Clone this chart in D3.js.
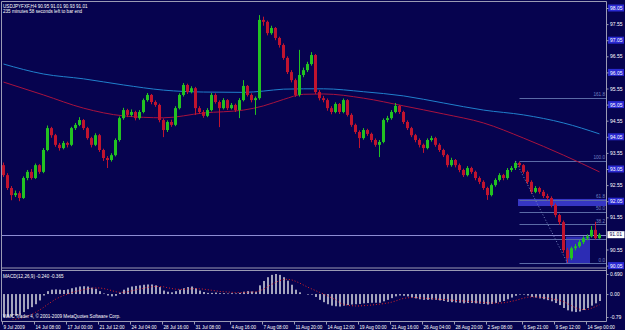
<!DOCTYPE html>
<html>
<head>
<meta charset="utf-8">
<script src="https://cdnjs.cloudflare.com/ajax/libs/d3/7.8.5/d3.min.js"></script>
<style>
  body { margin: 0; background: #06034f; }
  svg { display: block; font-family: 'Liberation Sans', Arial, sans-serif; }
</style>
</head>
<body>
<div id="wrapper"></div>
<script>
// USDJPY H4 candles (one bar per 4px here)
const firstOpen = 93.17
const closes = [
  92.86, 92.46, 92.24, 92.30, 92.15, 92.77, 92.96, 92.77, 93.17, 92.96,
  93.64, 94.32, 94.10, 93.80, 93.70, 93.86, 93.80, 94.32, 94.42, 94.57,
  94.32, 94.01, 93.80, 94.10, 93.64, 93.39, 93.33, 93.48, 93.95, 94.63,
  94.88, 94.73, 94.82, 94.63, 94.82, 95.19, 95.35, 95.13, 95.04, 94.57,
  94.26, 94.51, 94.42, 94.94, 95.35, 95.66, 95.44, 95.56, 94.94, 94.82,
  94.70, 94.88, 95.35, 95.13, 94.94, 95.19, 94.94, 95.04, 94.88, 95.19,
  95.63, 95.35, 95.19, 95.25, 97.68, 97.62, 97.27, 97.43, 97.12, 96.90,
  96.50, 96.06, 95.81, 95.35, 95.97, 96.12, 96.31, 96.59, 95.44, 95.25,
  95.19, 94.94, 94.82, 95.07, 94.82, 95.19, 94.73, 94.42, 94.20, 94.01,
  94.26, 94.14, 93.95, 93.80, 93.89, 94.57, 94.63, 94.82, 95.01, 94.82,
  94.51, 94.32, 94.10, 93.95, 93.80, 93.70, 93.95, 94.01, 93.80, 93.64,
  93.48, 93.17, 93.33, 93.17, 93.02, 92.86, 93.08, 92.96, 92.77, 92.65,
  92.46, 92.24, 92.55, 92.71, 92.86, 92.77, 93.02, 93.08, 93.24, 93.17,
  92.96, 92.65, 92.34, 92.46, 92.34, 92.21, 92.15, 91.93, 91.62, 91.40,
  90.53, 90.28, 90.59, 90.65, 90.78, 90.90, 90.96, 91.16, 90.90, 91.01
]
const highs = [
  93.25, 92.92, 92.52, 92.38, 92.36, 92.82, 93.02, 93.05, 93.22, 93.20,
  93.70, 94.40, 94.36, 94.14, 93.86, 93.92, 93.90, 94.36, 94.48, 94.66,
  94.60, 94.36, 94.05, 94.16, 94.14, 93.68, 93.45, 93.54, 94.00, 94.68,
  94.95, 94.92, 94.90, 94.86, 94.88, 95.24, 95.41, 95.38, 95.18, 95.08,
  94.62, 94.56, 94.58, 95.00, 95.40, 95.72, 95.70, 95.62, 95.60, 95.00,
  94.88, 94.94, 95.41, 95.40, 95.18, 95.25, 95.22, 95.10, 95.08, 95.25,
  95.81, 95.66, 95.40, 95.30, 97.83, 97.78, 97.66, 97.50, 97.46, 97.16,
  96.95, 96.55, 96.12, 95.86, 96.75, 96.20, 96.38, 96.68, 96.62, 95.50,
  95.32, 95.24, 95.00, 95.12, 95.10, 95.24, 95.22, 94.78, 94.46, 94.25,
  94.32, 94.30, 94.18, 94.00, 93.95, 94.62, 94.70, 94.88, 95.10, 95.04,
  94.86, 94.56, 94.36, 94.14, 94.00, 93.84, 94.00, 94.08, 94.05, 93.85,
  93.68, 93.52, 93.40, 93.36, 93.22, 93.06, 93.14, 93.12, 93.00, 92.82,
  92.70, 92.50, 92.60, 92.76, 92.92, 92.90, 93.08, 93.14, 93.30, 93.28,
  93.20, 93.00, 92.70, 92.52, 92.50, 92.40, 92.28, 92.20, 91.98, 91.66,
  91.45, 90.60, 90.64, 90.72, 90.84, 90.96, 91.02, 91.28, 91.41, 91.06
]
const lows = [
  92.80, 92.40, 92.08, 92.18, 92.05, 92.12, 92.70, 92.72, 92.74, 92.90,
  92.92, 93.60, 94.02, 93.74, 93.62, 93.66, 93.72, 93.76, 94.26, 94.38,
  94.26, 93.96, 93.72, 93.76, 93.58, 93.30, 93.08, 93.28, 93.44, 93.90,
  94.58, 94.66, 94.68, 94.56, 94.58, 94.78, 95.14, 95.06, 94.98, 94.50,
  94.04, 94.20, 94.36, 94.38, 94.90, 95.30, 95.38, 95.40, 94.73, 94.76,
  94.64, 94.66, 94.84, 95.08, 94.35, 94.90, 94.88, 94.90, 94.82, 94.63,
  95.15, 95.30, 95.12, 94.73, 95.20, 97.50, 97.20, 97.22, 97.05, 96.82,
  96.44, 96.00, 95.74, 95.29, 95.30, 95.90, 96.06, 96.26, 95.38, 95.18,
  95.12, 94.86, 94.75, 94.78, 94.76, 94.78, 94.68, 94.36, 94.14, 93.70,
  93.96, 94.08, 93.88, 93.74, 93.42, 93.85, 94.50, 94.58, 94.78, 94.76,
  94.45, 94.26, 94.04, 93.88, 93.72, 93.55, 93.66, 93.90, 93.74, 93.58,
  93.42, 93.10, 93.12, 93.10, 92.95, 92.80, 92.82, 92.90, 92.70, 92.58,
  92.40, 92.09, 92.20, 92.50, 92.66, 92.70, 92.72, 92.96, 93.02, 93.10,
  92.90, 92.58, 92.28, 92.30, 92.28, 92.15, 92.08, 91.86, 91.55, 91.32,
  90.45, 90.13, 90.22, 90.52, 90.60, 90.72, 90.84, 90.92, 90.86, 90.88
]

// moving averages, sampled at these bar indices
const maIdx = [0, 10, 20, 30, 40, 50, 60, 65, 70, 75, 80, 90, 100, 110, 120, 130, 140, 149]
const maBlue = [96.31, 96.00, 95.85, 95.66, 95.50, 95.44, 95.43, 95.47, 95.53, 95.54, 95.54, 95.45, 95.32, 95.10, 94.88, 94.73, 94.48, 94.14]
const maRed = [95.75, 95.35, 94.94, 94.70, 94.64, 94.79, 94.88, 95.01, 95.21, 95.37, 95.38, 95.25, 95.01, 94.76, 94.48, 94.01, 93.48, 92.96]

// MACD(12,26,9) histogram and signal
const macdMain = [
  -0.80, -0.80, -0.78, -0.75, -0.72, -0.62, -0.52, -0.45, -0.35, -0.22,
  -0.05, 0.10, 0.15, 0.16, 0.15, 0.14, 0.16, 0.20, 0.23, 0.26,
  0.27, 0.26, 0.22, 0.18, 0.10, 0.02, -0.05, -0.08, -0.06, 0.05,
  0.15, 0.22, 0.26, 0.28, 0.30, 0.32, 0.33, 0.33, 0.30, 0.24,
  0.12, 0.08, 0.06, 0.10, 0.15, 0.20, 0.24, 0.26, 0.20, 0.12,
  0.07, 0.04, 0.04, 0.05, 0.03, 0.03, 0.02, 0.03, 0.02, 0.04,
  0.08, 0.10, 0.09, 0.08, 0.30, 0.45, 0.58, 0.66, 0.69, 0.66,
  0.58, 0.46, 0.32, 0.15, 0.06, 0.00, -0.02, -0.02, -0.10, -0.20,
  -0.28, -0.35, -0.40, -0.42, -0.43, -0.40, -0.38, -0.36, -0.35, -0.34,
  -0.32, -0.31, -0.30, -0.30, -0.30, -0.25, -0.20, -0.14, -0.08, -0.05,
  -0.06, -0.08, -0.12, -0.15, -0.18, -0.20, -0.20, -0.19, -0.20, -0.22,
  -0.24, -0.27, -0.28, -0.29, -0.30, -0.32, -0.31, -0.31, -0.32, -0.33,
  -0.34, -0.36, -0.34, -0.31, -0.27, -0.24, -0.18, -0.12, -0.06, -0.02,
  -0.02, -0.05, -0.10, -0.12, -0.15, -0.18, -0.21, -0.25, -0.31, -0.38,
  -0.48, -0.56, -0.60, -0.62, -0.60, -0.55, -0.48, -0.40, -0.32, -0.24
]
const macdSignal = [
  -0.95, -0.93, -0.90, -0.87, -0.84, -0.80, -0.75, -0.70, -0.63, -0.55,
  -0.46, -0.36, -0.27, -0.18, -0.11, -0.05, 0.00, 0.05, 0.09, 0.12,
  0.15, 0.18, 0.20, 0.21, 0.21, 0.19, 0.16, 0.12, 0.08, 0.06,
  0.06, 0.08, 0.11, 0.14, 0.17, 0.20, 0.23, 0.25, 0.26, 0.26,
  0.25, 0.22, 0.19, 0.17, 0.16, 0.16, 0.17, 0.18, 0.19, 0.18,
  0.17, 0.15, 0.13, 0.11, 0.09, 0.08, 0.07, 0.06, 0.05, 0.05,
  0.05, 0.06, 0.07, 0.07, 0.11, 0.17, 0.25, 0.33, 0.40, 0.46,
  0.50, 0.51, 0.49, 0.44, 0.38, 0.31, 0.24, 0.18, 0.12, 0.06,
  0.00, -0.06, -0.13, -0.19, -0.30, -0.35, -0.38, -0.40, -0.41, -0.41,
  -0.40, -0.39, -0.38, -0.36, -0.35, -0.33, -0.31, -0.28, -0.24, -0.19,
  -0.15, -0.13, -0.12, -0.12, -0.13, -0.14, -0.15, -0.16, -0.17, -0.18,
  -0.19, -0.20, -0.21, -0.22, -0.23, -0.24, -0.25, -0.26, -0.27, -0.28,
  -0.29, -0.30, -0.31, -0.31, -0.31, -0.30, -0.28, -0.25, -0.22, -0.18,
  -0.14, -0.11, -0.10, -0.10, -0.11, -0.12, -0.14, -0.16, -0.19, -0.22,
  -0.26, -0.33, -0.40, -0.47, -0.52, -0.54, -0.53, -0.49, -0.43, -0.37
]

// axis labels
const priceTicks = [98.05, 97.55, 97.05, 96.55, 96.05, 95.55, 95.05, 94.55, 94.05, 93.55, 93.05, 92.55, 92.05, 91.55, 90.55, 90.05]
const boxedTicks = [98.05, 97.05, 96.05, 95.05, 94.05, 93.05, 92.05, 90.05]
const bidPrice = 91.01
const macdTicks = [0.69, 0, -0.79]
const macdTickLabels = ['0.690', '0.00', '-0.79']
const timeIdx = [0, 8, 16, 24, 32, 40, 48, 57, 65, 73, 81, 89, 97, 105, 113, 121, 130, 138, 146]
const timeLabels = ['9 Jul 2009', '14 Jul 08:00', '17 Jul 00:00', '21 Jul 12:00', '24 Jul 04:00',
  '28 Jul 16:00', '31 Jul 08:00', '4 Aug 16:00', '7 Aug 08:00', '11 Aug 20:00', '14 Aug 12:00',
  '19 Aug 00:00', '21 Aug 16:00', '26 Aug 04:00', '28 Aug 20:00', '2 Sep 08:00', '6 Sep 21:00',
  '9 Sep 12:00', '14 Sep 00:00']

// fibonacci retracement drawn on the last swing
const fibStartIdx = 128
const fibEndIdx = 141
const fibHigh = 93.30
const fibLow = 90.13
const fibLevels = [0, 23.6, 38.2, 50, 61.8, 100, 161.8]
const fibLabels = ['0.0', '', '38.2', '50.0', '61.8', '100.0', '161.8']

const bg = '#06034f'
const frame = '#9a9ab4'
const bull = '#22c222'
const bear = '#c0142f'

const n = closes.length
const opens = closes.map((c, i) => (i === 0 ? firstOpen : closes[i - 1]))

const svg = d3.select('#wrapper').append('svg').attr('width', 625).attr('height', 330)
svg.append('rect').attr('width', 625).attr('height', 330).attr('fill', bg)

const x = d3.scaleBand().domain(d3.range(n)).range([2, 602]).paddingInner(0.25).paddingOuter(0.125)
const xLeft = (i) => Math.floor(x(i))
const xMid = (i) => Math.floor(x(i)) + 1.5
const xIdx = d3.scaleLinear().domain([0, n]).range([2, 602])

const yPrice = d3.scaleLinear().domain([90.05, 98.05]).range([265.6, 8])
const yMacd = d3.scaleLinear().domain([-0.79, 0.69]).range([317, 274])

const defs = svg.append('defs')
defs.append('clipPath').attr('id', 'clipMain').append('rect').attr('x', 2).attr('y', 2).attr('width', 604).attr('height', 265)
defs.append('clipPath').attr('id', 'clipMacd').append('rect').attr('x', 2).attr('y', 271).attr('width', 604).attr('height', 49)

const main = svg.append('g').attr('clip-path', 'url(#clipMain)')

// 61.8 band and the blue box round the low
main.append('rect')
  .attr('x', xLeft(fibStartIdx + 1)).attr('width', 606 - xLeft(fibStartIdx + 1))
  .attr('y', yPrice(92.12)).attr('height', yPrice(91.90) - yPrice(92.12))
  .attr('fill', '#3636c4')
main.append('rect')
  .attr('x', xLeft(fibEndIdx)).attr('width', xLeft(147) - xLeft(fibEndIdx))
  .attr('y', yPrice(90.95)).attr('height', yPrice(fibLow) - yPrice(90.95))
  .attr('fill', '#2c2cb4')

// fib level lines
const fibPrice = (lv) => fibLow + (fibHigh - fibLow) * lv / 100
main.selectAll('.fib')
  .data(fibLevels)
  .enter()
  .append('line')
  .attr('x1', xMid(fibStartIdx + 1)).attr('x2', 606)
  .attr('y1', (d) => Math.round(yPrice(fibPrice(d))) + 0.5)
  .attr('y2', (d) => Math.round(yPrice(fibPrice(d))) + 0.5)
  .attr('stroke', '#5a6aa6').attr('stroke-width', 1)

// bid line
main.append('line')
  .attr('x1', 2).attr('x2', 606)
  .attr('y1', Math.round(yPrice(bidPrice)) + 0.5).attr('y2', Math.round(yPrice(bidPrice)) + 0.5)
  .attr('stroke', '#8c8cd4').attr('stroke-width', 1)

// moving averages
const maLine = (vals) => d3.line()
  .x((d, i) => xMid(maIdx[i]))
  .y((d) => yPrice(d))
  .curve(d3.curveMonotoneX)(vals)
main.append('path').attr('d', maLine(maBlue)).attr('fill', 'none').attr('stroke', '#2080cc').attr('stroke-width', 1)
main.append('path').attr('d', maLine(maRed)).attr('fill', 'none').attr('stroke', '#a8123e').attr('stroke-width', 1)

// candles
const candles = main.selectAll('.candle')
  .data(closes)
  .enter()
  .append('g')
  .attr('class', 'candle')
candles.append('line')
  .attr('x1', (d, i) => xMid(i)).attr('x2', (d, i) => xMid(i))
  .attr('y1', (d, i) => yPrice(highs[i])).attr('y2', (d, i) => yPrice(lows[i]))
  .attr('stroke', (d, i) => (d >= opens[i] ? bull : bear))
candles.append('rect')
  .attr('x', (d, i) => xLeft(i))
  .attr('width', 3)
  .attr('y', (d, i) => yPrice(Math.max(d, opens[i])))
  .attr('height', (d, i) => Math.max(1, Math.abs(yPrice(d) - yPrice(opens[i]))))
  .attr('fill', (d, i) => (d >= opens[i] ? bull : bear))

// fib trend line and labels
main.append('line')
  .attr('x1', xMid(fibStartIdx)).attr('y1', yPrice(fibHigh))
  .attr('x2', xMid(fibEndIdx)).attr('y2', yPrice(fibLow))
  .attr('stroke', '#7484bc').attr('stroke-dasharray', '1,2')
main.selectAll('.fibLabel')
  .data(fibLevels)
  .enter()
  .append('text')
  .attr('x', 605)
  .attr('y', (d) => yPrice(fibPrice(d)) - 1.5)
  .attr('text-anchor', 'end')
  .attr('font-size', '4.6px')
  .attr('fill', '#7282c0')
  .text((d, i) => fibLabels[i])

// MACD panel
const macd = svg.append('g').attr('clip-path', 'url(#clipMacd)')
macd.selectAll('.hist')
  .data(macdMain)
  .enter()
  .append('rect')
  .attr('x', (d, i) => xLeft(i) + 1)
  .attr('width', 2)
  .attr('y', (d) => Math.min(yMacd(d), yMacd(0)))
  .attr('height', (d) => Math.abs(yMacd(d) - yMacd(0)))
  .attr('fill', '#a4a4bc')
macd.append('path')
  .attr('d', d3.line().x((d, i) => xMid(i)).y((d) => yMacd(d))(macdSignal))
  .attr('fill', 'none').attr('stroke', '#e02424').attr('stroke-width', 1)
  .attr('stroke-dasharray', '1,2')

// frame and separators
const frameLines = [
  [1.5, 1.5, 606.5, 1.5], [1.5, 1.5, 1.5, 321.5], [606.5, 1.5, 606.5, 321.5],
  [1.5, 321.5, 606.5, 321.5], [1.5, 268, 606.5, 268], [1.5, 270.5, 606.5, 270.5]
]
svg.selectAll('.frame')
  .data(frameLines)
  .enter()
  .append('line')
  .attr('x1', (d) => d[0]).attr('y1', (d) => d[1])
  .attr('x2', (d) => d[2]).attr('y2', (d) => d[3])
  .attr('stroke', frame).attr('stroke-width', 1)

// price axis
svg.selectAll('.box')
  .data(boxedTicks)
  .enter()
  .append('rect')
  .attr('x', 608).attr('width', 16)
  .attr('y', (d) => yPrice(d) - 3.5).attr('height', 7)
  .attr('fill', '#2a2ad2')
const priceAxis = svg.append('g')
  .attr('transform', 'translate(606.5,0)')
  .call(d3.axisRight(yPrice).tickValues(priceTicks).tickFormat(d3.format('.2f')).tickSize(2).tickPadding(1.5))
priceAxis.select('.domain').remove()
priceAxis.selectAll('line').attr('stroke', frame)
priceAxis.selectAll('text').attr('fill', '#ffffff').attr('font-size', '5px').attr('font-family', "'Liberation Sans', Arial, sans-serif")

svg.append('rect')
  .attr('x', 607.5).attr('width', 17)
  .attr('y', yPrice(bidPrice) - 3.5).attr('height', 7)
  .attr('fill', '#ffffff')
svg.append('text')
  .attr('x', 609.5).attr('y', yPrice(bidPrice) + 1.8)
  .attr('font-size', '5px').attr('fill', bg)
  .text(d3.format('.2f')(bidPrice))

// MACD axis
const macdAxis = svg.append('g')
  .attr('transform', 'translate(606.5,0)')
  .call(d3.axisRight(yMacd).tickValues(macdTicks).tickFormat((d, i) => macdTickLabels[i]).tickSize(2).tickPadding(1.5))
macdAxis.select('.domain').remove()
macdAxis.selectAll('line').attr('stroke', frame)
macdAxis.selectAll('text').attr('fill', '#ffffff').attr('font-size', '5px').attr('font-family', "'Liberation Sans', Arial, sans-serif")

// time axis
const timeAxis = svg.append('g')
  .attr('transform', 'translate(0,321.5)')
  .call(d3.axisBottom(xIdx).tickValues(timeIdx).tickFormat((d, i) => timeLabels[i]).tickSize(3).tickPadding(1))
timeAxis.select('.domain').remove()
timeAxis.selectAll('line').attr('stroke', frame)
timeAxis.selectAll('text')
  .attr('text-anchor', 'start').attr('dx', 1)
  .attr('fill', '#ffffff').attr('font-size', '4.6px')
  .attr('font-family', "'Liberation Sans', Arial, sans-serif")

// captions
const captions = [
  ['USDJPYFXF,H4  90.95 91.01 90.93 91.01', 3, 7.5],
  ['235 minutes 58 seconds left to bar end', 3, 13],
  ['MACD(12,26,9) -0.240 -0.365', 3, 277.5],
  ['WMC Trader 4, \u00a9 2001-2009 MetaQuotes Software Corp.', 3, 318]
]
svg.selectAll('.caption')
  .data(captions)
  .enter()
  .append('text')
  .attr('x', (d) => d[1]).attr('y', (d) => d[2])
  .attr('font-size', '4.6px').attr('fill', '#ffffff')
  .text((d) => d[0])
</script>
</body>
</html>
